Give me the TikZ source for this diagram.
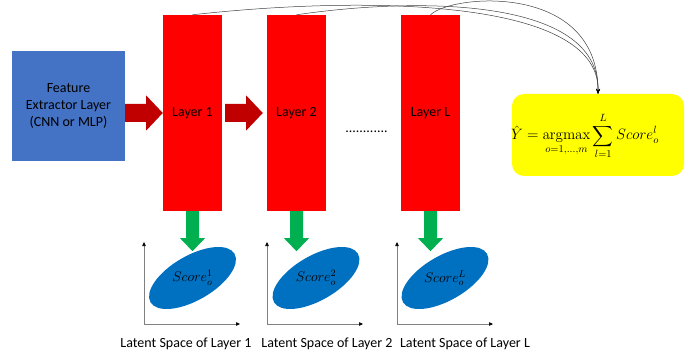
\RequirePackage{fix-cm}
\documentclass[tikz,border=0pt]{standalone}
\usepackage{amsmath}
\usepackage[no-math]{fontspec}
\setmainfont{Carlito}
\usetikzlibrary{shapes.geometric,arrows.meta,calc}
\definecolor{feblue}{HTML}{4472C4}
\definecolor{layred}{HTML}{FF0000}
\definecolor{arrred}{HTML}{C00000}
\definecolor{arrgreen}{HTML}{00B050}
\definecolor{elblue}{HTML}{0070C0}
\definecolor{yel}{HTML}{FFFF00}
\definecolor{axgray}{HTML}{808080}
\begin{document}
\begin{tikzpicture}[x=1pt,y=-1pt,
  every node/.style={font=\fontsize{14}{17}\selectfont, inner sep=0pt},
  febox/.style={rectangle, fill=feblue, minimum width=113pt, minimum height=110pt, align=center},
  layerbox/.style={rectangle, fill=layred, minimum width=59pt, minimum height=196pt},
  resbox/.style={rectangle, fill=yel, rounded corners=12pt, minimum width=172pt, minimum height=82pt},
  latent/.style={ellipse, fill=elblue, minimum width=97pt, minimum height=44.6pt, rotate=30},
  conn/.style={draw=black!75, line width=0.5pt, -{Stealth[length=5pt,width=4pt,black]}},
  axisline/.style={draw=axgray, line width=0.6pt, -{Triangle[length=4pt,width=3.5pt,black]}},
  redarrow/.style={fill=arrred},
  greenarrow/.style={fill=arrgreen}]
\useasboundingbox (0,0) rectangle (693,358);

% main blocks
\node[febox] (fe) at (68.5,106) {Feature\\Extractor Layer\\(CNN or MLP)};
\node[layerbox] (l1) at (192.5,113) {Layer 1};
\node[layerbox] (l2) at (296.5,113) {Layer 2};
\node[layerbox] (lL) at (430.5,113) {Layer L};
\node (dots) at (366.5,132) {............};
\node[resbox] (res) at (598,135) {};
\node[font=\fontsize{15}{18}\selectfont] (formula) at ($(res.center)+(-13,1)$)
  {$\displaystyle \hat{Y} = \operatorname*{argmax}_{o=1,\dots,m} \sum_{l=1}^{L} Score_o^l$};

% red block arrows
\coordinate (a1s) at (fe.east |- l1.west);
\fill[redarrow] ($(a1s)+(0,-9)$) -- ($(a1s)+(21,-9)$) -- ($(a1s)+(21,-17.5)$) -- (l1.west)
  -- ($(a1s)+(21,17.5)$) -- ($(a1s)+(21,9)$) -- ($(a1s)+(0,9)$) -- cycle;
\coordinate (a2s) at ($(l1.east)+(3,0)$);
\coordinate (a2e) at ($(l2.west)+(-4,0)$);
\fill[redarrow] ($(a2s)+(0,-9)$) -- ($(a2s)+(21,-9)$) -- ($(a2s)+(21,-17.5)$) -- (a2e)
  -- ($(a2s)+(21,17.5)$) -- ($(a2s)+(21,9)$) -- ($(a2s)+(0,9)$) -- cycle;

% curved connectors
\draw[conn] (l1.north) .. controls (350,-3) and (600,-5) .. (res.north);
\draw[conn] (l2.north) .. controls (410,-2) and (600,-5) .. (res.north);
\draw[conn] (lL.north) .. controls (452,-6) and (598,-18) .. (res.north);

% latent spaces
\foreach \L/\ox/\ex/\tx/\sc in {l1/144/192.5/186/1, l2/267/316/327/2, lL/397/445/465/L}{
  \fill[greenarrow] ($(\L.south)+(-6.5,0)$) -- ($(\L.south)+(6.5,0)$) -- ($(\L.south)+(6.5,27)$)
    -- ($(\L.south)+(12.5,27)$) -- ($(\L.south)+(0,40)$) -- ($(\L.south)+(-12.5,27)$)
    -- ($(\L.south)+(-6.5,27)$) -- cycle;
  \coordinate (o\L) at (\ox,324);
  \coordinate (y\L) at (\ox,242);
  \coordinate (x\L) at (\ox+96,324);
  \draw[axisline] (o\L) -- (y\L);
  \draw[axisline] (o\L) -- (x\L);
  \node[latent] (e\L) at (\ex,278) {};
  \node (s\L) at (e\L.center) {$Score_o^{\sc}$};
  \node (t\L) at (\tx,344) {Latent Space of Layer \sc};
}
\end{tikzpicture}
\end{document}
